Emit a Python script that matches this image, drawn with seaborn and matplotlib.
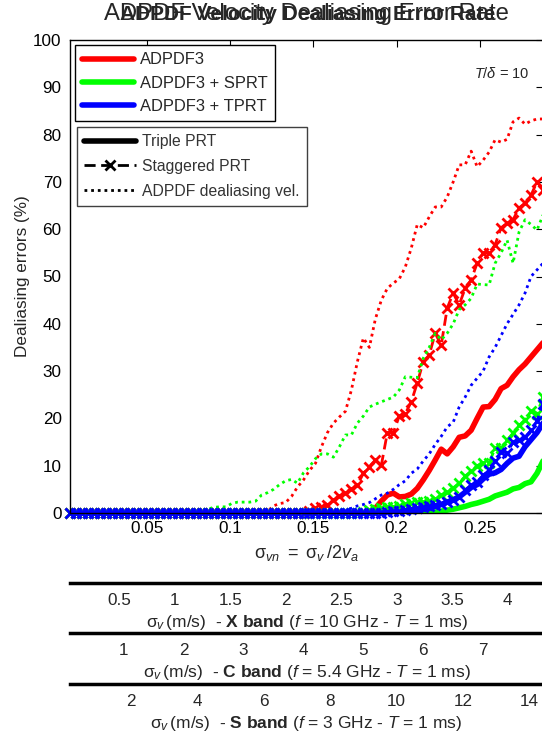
import numpy as np
import seaborn as sns
import matplotlib.pyplot as plt
from matplotlib.lines import Line2D

# normalised spectrum width, one sample every 0.0036 (80 samples)
sigma_vn = np.round(np.arange(1, 81) * 0.0036, 4)

# dealiasing errors (%)
red_triple = [0, 0, 0, 0, 0, 0, 0, 0, 0, 0,
              0, 0, 0, 0, 0, 0, 0, 0, 0, 0,
              0, 0, 0, 0, 0, 0, 0, 0, 0, 0,
              0, 0, 0, 0, 0, 0, 0, 0, 0, 0,
              0, 0, 0, 0, 0, 0, 0, 0, 0, 0,
              0.3, 1.0, 2.5, 3.8, 4.2, 3.4, 3.5, 4.0, 5.2, 7.0,
              9.0, 11.2, 13.5, 12.5, 14.0, 16.0, 16.3, 17.5, 20.0, 22.4,
              22.5, 24.0, 26.3, 27.0, 28.8, 30.3, 31.5, 33.0, 34.5, 36.0]
red_stag = [0, 0, 0, 0, 0, 0, 0, 0, 0, 0,
            0, 0, 0, 0, 0, 0, 0, 0, 0, 0,
            0, 0, 0, 0, 0, 0, 0, 0, 0, 0,
            0, 0, 0, 0, 0, 0, 0, 0, 0, 0,
            0.5, 1.0, 1.2, 1.7, 2.7, 3.5, 4.3, 5.0, 5.9, 8.4,
            9.8, 11.2, 10.1, 17.0, 17.0, 20.5, 21.0, 23.5, 27.5, 32.0,
            33.4, 38.0, 35.5, 43.3, 46.5, 44.0, 47.5, 49.3, 52.8, 55.0,
            55.0, 56.7, 60.3, 61.3, 62.0, 64.5, 65.5, 67.2, 70.0, 68.3]
red_dot = [0, 0, 0, 0, 0, 0, 0, 0, 0, 0,
           0, 0, 0, 0, 0, 0, 0, 0, 0, 0,
           0, 0, 0, 0, 0, 0, 0, 0, 0, 0,
           0, 0, 0.2, 0.4, 1.5, 2.0, 2.2, 3.5, 5.5, 7.0,
           9.0, 10.5, 14.0, 17.0, 19.0, 20.3, 21.5, 26.0, 32.0, 37.0,
           35.0, 41.0, 45.0, 47.5, 48.6, 49.5, 52.0, 56.0, 61.0, 60.3,
           62.6, 64.7, 64.7, 66.8, 70.0, 73.6, 73.6, 76.5, 73.2, 74.6,
           76.3, 78.9, 78.4, 79.0, 82.7, 83.5, 82.2, 82.9, 83.3, 83.3]

green_triple = [0, 0, 0, 0, 0, 0, 0, 0, 0, 0,
                0, 0, 0, 0, 0, 0, 0, 0, 0, 0,
                0, 0, 0, 0, 0, 0, 0, 0, 0, 0,
                0, 0, 0, 0, 0, 0, 0, 0, 0, 0,
                0, 0, 0, 0, 0, 0, 0, 0, 0, 0,
                0, 0, 0, 0, 0, 0, 0, 0, 0, 0,
                0.1, 0.2, 0.4, 0.6, 0.8, 1.1, 1.4, 1.8, 2.1, 2.5,
                2.9, 3.6, 4.0, 4.4, 5.1, 5.4, 6.2, 6.6, 8.4, 11.0]
green_stag = [0, 0, 0, 0, 0, 0, 0, 0, 0, 0,
              0, 0, 0, 0, 0, 0, 0, 0, 0, 0,
              0, 0, 0, 0, 0, 0, 0, 0, 0, 0,
              0, 0, 0, 0, 0, 0, 0, 0, 0, 0,
              0, 0, 0, 0, 0, 0, 0, 0, 0, 0.3,
              0.6, 0.8, 1.1, 1.3, 1.3, 1.5, 1.8, 2.1, 2.3, 2.3,
              2.5, 2.9, 3.7, 4.5, 5.3, 6.3, 7.8, 8.8, 10.0, 10.6,
              10.6, 13.7, 13.7, 15.4, 16.9, 18.5, 19.7, 21.5, 21.0, 24.5]
green_dot = [0, 0, 0, 0, 0, 0, 0, 0, 0, 0,
             0, 0, 0, 0, 0, 0, 0, 0, 0, 0.2,
             0.3, 0.4, 0.6, 0.8, 1.2, 1.3, 1.3, 2.0, 2.3, 2.3,
             2.3, 2.5, 3.8, 4.3, 5.0, 6.0, 6.8, 7.1, 6.3, 8.5,
             9.8, 11.5, 12.5, 12.5, 11.8, 14.0, 16.5, 16.5, 19.0, 20.5,
             22.4, 23.0, 23.5, 24.0, 24.5, 26.0, 28.8, 28.7, 28.6, 32.7,
             35.0, 38.0, 36.6, 38.0, 40.0, 43.0, 44.0, 45.4, 48.4, 48.3,
             48.2, 52.8, 55.0, 57.7, 52.8, 59.4, 62.0, 61.0, 59.8, 63.0]

blue_triple = [0, 0, 0, 0, 0, 0, 0, 0, 0, 0,
               0, 0, 0, 0, 0, 0, 0, 0, 0, 0,
               0, 0, 0, 0, 0, 0, 0, 0, 0, 0,
               0, 0, 0, 0, 0, 0, 0, 0, 0, 0,
               0, 0, 0, 0, 0, 0, 0, 0, 0, 0,
               0, 0, 0, 0, 0, 0, 0.2, 0.4, 0.6, 0.8,
               1.0, 1.4, 1.8, 2.3, 2.8, 3.4, 4.4, 5.4, 6.0, 7.2,
               8.2, 8.5, 9.2, 10.5, 11.6, 12.0, 14.0, 15.5, 17.0, 19.0]
blue_stag = [0, 0, 0, 0, 0, 0, 0, 0, 0, 0,
             0, 0, 0, 0, 0, 0, 0, 0, 0, 0,
             0, 0, 0, 0, 0, 0, 0, 0, 0, 0,
             0, 0, 0, 0, 0, 0, 0, 0, 0, 0,
             0, 0, 0, 0, 0, 0, 0, 0, 0, 0,
             0, 0, 0, 0.2, 0.4, 0.5, 0.7, 0.9, 1.1, 1.3,
             1.5, 1.7, 2.0, 2.3, 2.8, 3.4, 4.9, 5.9, 6.6, 8.0,
             9.0, 11.0, 13.0, 12.7, 15.0, 15.4, 16.0, 17.5, 19.5, 23.0]
blue_dot = [0, 0, 0, 0, 0, 0, 0, 0, 0, 0,
            0, 0, 0, 0, 0, 0, 0, 0, 0, 0,
            0, 0, 0, 0, 0, 0, 0, 0, 0, 0,
            0, 0, 0, 0, 0, 0, 0, 0, 0, 0,
            0, 0, 0, 0, 0, 0.3, 0.6, 1.0, 1.5, 1.8,
            2.2, 3.0, 3.8, 4.2, 5.0, 6.0, 6.8, 8.4, 9.3, 11.0,
            12.5, 14.5, 16.2, 18.2, 19.2, 22.4, 24.5, 27.0, 28.5, 30.0,
            33.0, 35.0, 37.5, 40.0, 42.0, 44.0, 46.5, 50.0, 51.4, 52.8]

methods = ["ADPDF3", "ADPDF3 + SPRT", "ADPDF3 + TPRT"]
method_colors = ["red", "lime", "blue"]
prt_labels = ["Triple PRT", "Staggered PRT", "ADPDF dealiasing vel."]

# radar bands for the extra axes below the plot
band_names = ["X", "C", "S"]
band_freq = ["10", "5.4", "3"]   # GHz
band_ticks = [[0.5, 1, 1.5, 2, 2.5, 3, 3.5, 4],
              [1, 2, 3, 4, 5, 6, 7],
              [2, 4, 6, 8, 10, 12, 14]]
band_tick_labels = [["0.5", "1", "1.5", "2", "2.5", "3", "3.5", "4"],
                    ["1", "2", "3", "4", "5", "6", "7"],
                    ["2", "4", "6", "8", "10", "12", "14"]]

sns.set_style("white")
plt.rcParams["font.family"] = ["Liberation Sans", "DejaVu Sans"]
plt.rcParams["mathtext.fontset"] = "custom"
plt.rcParams["mathtext.rm"] = "Liberation Sans"
plt.rcParams["mathtext.it"] = "Liberation Sans:italic"
plt.rcParams["mathtext.bf"] = "Liberation Sans:bold"
plt.rcParams["font.size"] = 12.3

W, H = 542, 734
fig = plt.figure(figsize=(W / 100, H / 100), dpi=100)
ax = fig.add_axes([70 / W, 1 - 513 / H, 473 / W, 473 / H])

all_series = [(red_triple, red_stag, red_dot),
              (green_triple, green_stag, green_dot),
              (blue_triple, blue_stag, blue_dot)]

for color, (tri, stag, dot) in zip(method_colors, all_series):
    sns.lineplot(x=sigma_vn, y=tri, ax=ax, color=color, linewidth=4,
                 errorbar=None, solid_joinstyle="round")
    sns.lineplot(x=sigma_vn, y=stag, ax=ax, color=color, linewidth=2,
                 linestyle=(0, (4, 2)), marker="x", markersize=7,
                 markeredgewidth=2, markeredgecolor=color, clip_on=False,
                 errorbar=None)
    sns.lineplot(x=sigma_vn, y=dot, ax=ax, color=color, linewidth=2,
                 linestyle=(0, (1, 1.4)), errorbar=None)

ax.set_xlim(0.0036, 0.288)
ax.set_ylim(0, 100)
ax.set_xticks([0.05, 0.1, 0.15, 0.2, 0.25])
ax.set_xticklabels(["0.05", "0.1", "0.15", "0.2", "0.25"])
ax.set_yticks(range(0, 101, 10))
ax.tick_params(direction="in", top=True, right=True, length=5, width=0.8,
               pad=6, colors="black")
for s in ax.spines.values():
    s.set_linewidth(1.0)
    s.set_color("black")

ax.set_xlabel(r"$\mathrm{\sigma}_{vn}\ =\ \mathrm{\sigma}_v\,/2v_a$",
              labelpad=5, fontsize=13)
ax.set_ylabel("Dealiasing errors (%)")
ax.yaxis.set_label_coords(-0.085, 0.5)

# T/delta note, placed in figure pixels
fig.text(474 / W, 1 - 73 / H, r"$T/\delta$ = 10", va="center", ha="left",
         fontsize=10.5)

# the two overlapping titles
fig.text(306 / W, 1 - 14 / H, "ADPDF Velocity Dealiasing Error Rate",
         ha="center", va="center", fontsize=17.2)
fig.text(308 / W, 1 - 14 / H, "ADPDF Velocity Dealiasing Error Rate",
         ha="center", va="center", fontsize=15, fontweight="bold")

# legends
h1 = [Line2D([], [], color=c, linewidth=4) for c in method_colors]
leg1 = ax.legend(h1, methods, loc="upper left",
                 bbox_to_anchor=((75 - 70) / 473, (513 - 45) / 473),
                 borderaxespad=0, fancybox=False, framealpha=1,
                 edgecolor="black", handlelength=3.1, handletextpad=0.4,
                 labelspacing=0.5, borderpad=0.45, fontsize=11.9)
leg1.get_frame().set_linewidth(1.0)
ax.add_artist(leg1)

h2 = [Line2D([], [], color="black", linewidth=4),
      Line2D([], [], color="black", linewidth=2, linestyle=(0, (4, 2)),
             marker="x", markersize=7, markeredgewidth=2),
      Line2D([], [], color="black", linewidth=2, linestyle=(0, (1, 1.4)))]
leg2 = ax.legend(h2, prt_labels, loc="upper left",
                 bbox_to_anchor=((77 - 70) / 473, (513 - 127) / 473),
                 borderaxespad=0, fancybox=False, framealpha=1,
                 edgecolor="#404040", handlelength=3.3, handletextpad=0.4,
                 labelspacing=0.62, borderpad=0.45, labelcolor="#333333",
                 fontsize=11.3)
leg2.get_frame().set_linewidth(1.0)

# extra sigma_v axes for the three bands
line_y = [583, 633, 684]
for name, freq, ticks, labels, y in zip(band_names, band_freq, band_ticks,
                                        band_tick_labels, line_y):
    two_va = 150 / float(freq)   # 2 v_a = c / (2 f T) with T = 1 ms
    bax = fig.add_axes([70 / W, 1 - y / H, 473 / W, 0.0001])
    bax.patch.set_visible(False)
    for side in ["left", "right", "top"]:
        bax.spines[side].set_visible(False)
    bax.spines["bottom"].set_linewidth(2.5)
    bax.spines["bottom"].set_color("black")
    bax.set_yticks([])
    bax.set_xlim(0.0036 * two_va, 0.288 * two_va)
    bax.set_xticks(ticks)
    bax.set_xticklabels(labels)
    bax.tick_params(axis="x", direction="in", length=5, width=0.8, pad=7)
    bax.set_xlabel(r"$\mathrm{\sigma}_v\,$(m/s)  - $\mathbf{" + name +
                   r"\ band}$ ($f$ = " + freq + r" GHz - $T$ = 1 ms)",
                   labelpad=4, fontsize=12.5)

fig.savefig("out.png", dpi=100)
